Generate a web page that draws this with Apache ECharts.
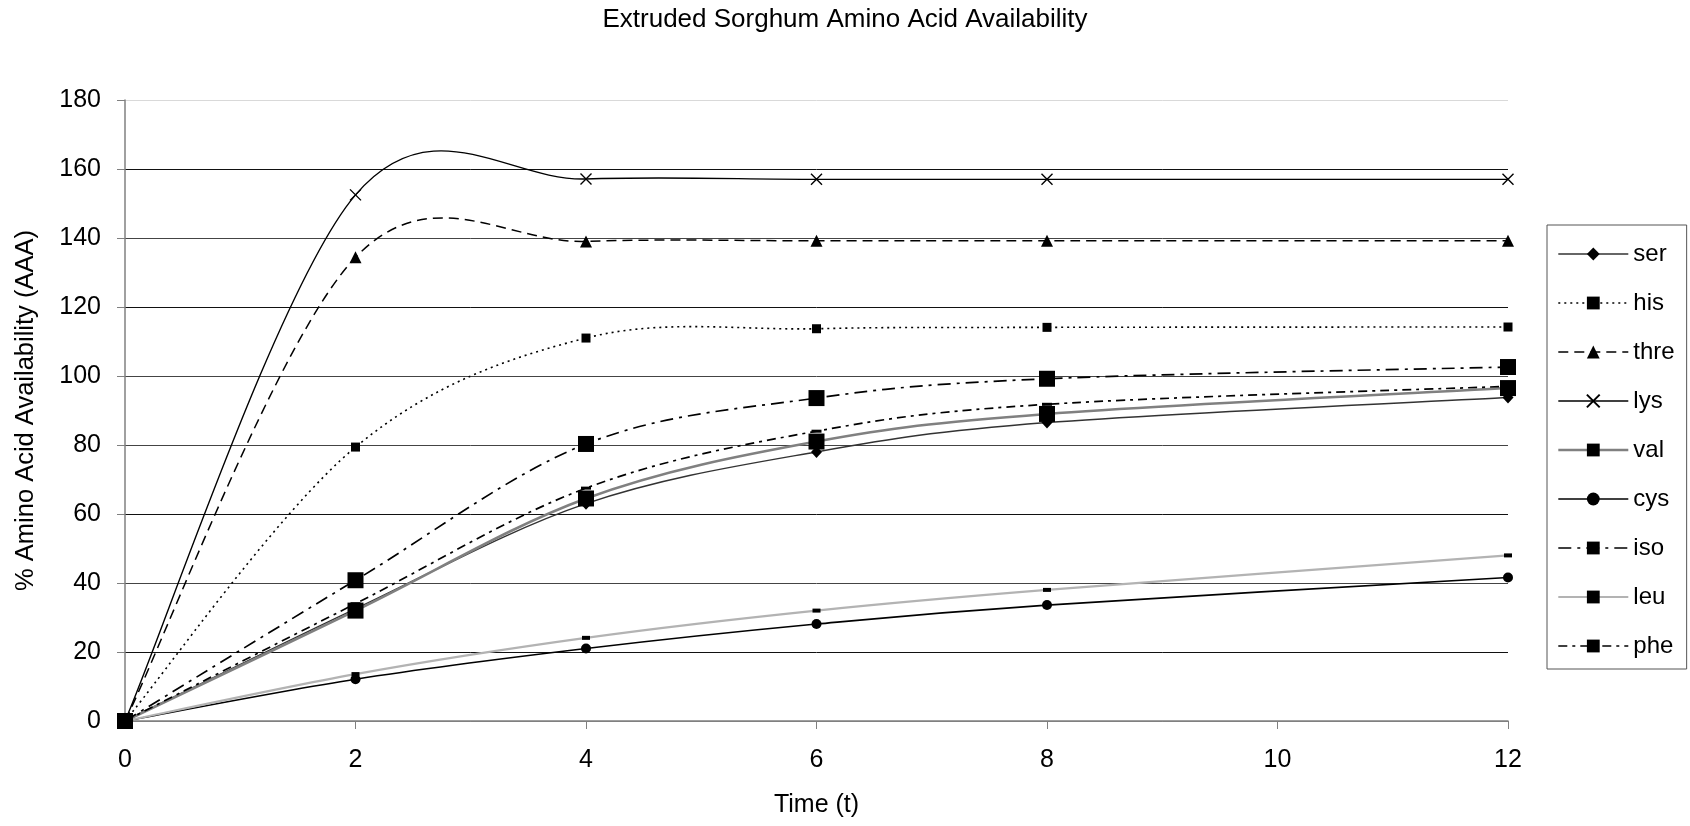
<!DOCTYPE html>
<html>
<head>
<meta charset="utf-8">
<title>Extruded Sorghum Amino Acid Availability</title>
<script src="https://cdn.jsdelivr.net/npm/echarts@6/dist/echarts.min.js"></script>
<style>
  html, body { margin: 0; padding: 0; background: #fff; }
  #chart { width: 1690px; height: 826px; }
</style>
</head>
<body>
<div id="chart"></div>
<script>
// Sampling times (x values) and availability (%) per amino acid
const timePoints = [0, 2, 4, 6, 8, 12];
const xTicks = [0, 2, 4, 6, 8, 10, 12];
const yTicks = [0, 20, 40, 60, 80, 100, 120, 140, 160, 180];

const ser  = [0, 32.5, 63,    78,    86.5,  93.8];
const his  = [0, 79.4, 111,   113.7, 114.1, 114.2];
const thre = [0, 134.4, 139,  139.2, 139.2, 139.2];
const lys  = [0, 152.5, 157.1, 157,  157,   157];
const val  = [0, 32,   64.5,  81,    89,    96.5];
const cys  = [0, 12.1, 21,    28.1,  33.6,  41.6];
const iso  = [0, 40.8, 80.3,  93.6,  99.2,  102.6];
const leu  = [0, 13.6, 24.1,  32,    38,    48];
const phe  = [0, 34,   67.5,  84,    91.8,  97];

const FONT = "'Liberation Sans', Arial, sans-serif";
const crossPath = 'path://M0,0L10,10M10,0L0,10';

function pairs(values) {
  return timePoints.map((t, i) => [t, values[i]]);
}

// Cardinal (1/6 tension) Bezier through the projected points
function smoothPathData(pts) {
  let d = 'M' + pts[0][0] + ',' + pts[0][1];
  for (let i = 0; i < pts.length - 1; i++) {
    const p0 = pts[Math.max(i - 1, 0)];
    const p1 = pts[i];
    const p2 = pts[i + 1];
    const p3 = pts[Math.min(i + 2, pts.length - 1)];
    const c1x = p1[0] + (p2[0] - p0[0]) / 6;
    const c1y = p1[1] + (p2[1] - p0[1]) / 6;
    const c2x = p2[0] - (p3[0] - p1[0]) / 6;
    const c2y = p2[1] - (p3[1] - p1[1]) / 6;
    d += 'C' + c1x + ',' + c1y + ',' + c2x + ',' + c2y + ',' + p2[0] + ',' + p2[1];
  }
  return d;
}

const defs = [
  { name: 'ser',  values: ser,  color: '#333',    width: 1.5, dash: null,            symbol: 'diamond', size: [11, 12] },
  { name: 'his',  values: his,  color: '#000',    width: 1.6, dash: [2, 4],          symbol: 'rect',    size: 9 },
  { name: 'thre', values: thre, color: '#000',    width: 1.5, dash: [10, 6],         symbol: 'triangle', size: 12 },
  { name: 'lys',  values: lys,  color: '#000',    width: 1.4, dash: null,            symbol: crossPath, size: 11 },
  { name: 'val',  values: val,  color: '#808080', width: 2.6, dash: null,            symbol: 'rect',    size: 16 },
  { name: 'cys',  values: cys,  color: '#000',    width: 1.6, dash: null,            symbol: 'circle',  size: 10 },
  { name: 'iso',  values: iso,  color: '#000',    width: 1.7, dash: [13, 6, 3, 6],   symbol: 'rect',    size: 16 },
  { name: 'leu',  values: leu,  color: '#b3b3b3', width: 2.2, dash: null,            symbol: 'rect',    size: [8, 4] },
  { name: 'phe',  values: phe,  color: '#000',    width: 1.7, dash: [9, 5, 3, 5],    symbol: 'rect',    size: [10, 3] }
];

// Markers (line series, its own line hidden) come first so the legend takes its icon from them
const markerSeries = defs.map(d => ({
  name: d.name,
  type: 'line',
  data: pairs(d.values),
  symbol: d.symbol,
  symbolSize: d.size,
  showAllSymbol: true,
  z: 4,
  lineStyle: { opacity: 0, color: d.color, width: d.width },
  itemStyle: d.symbol === crossPath
    ? { color: 'rgba(0,0,0,0)', borderColor: '#000', borderWidth: 1.4 }
    : { color: '#000' },
  emphasis: { disabled: true },
  silent: true
}));

// Smoothed connecting curves
const curveSeries = defs.map(d => ({
  name: d.name,
  type: 'custom',
  data: pairs(d.values),
  z: 3,
  silent: true,
  renderItem: function (params, api) {
    if (params.dataIndex !== 0) return null;
    const pts = timePoints.map((t, i) => api.coord([t, d.values[i]]));
    return {
      type: 'path',
      shape: { pathData: smoothPathData(pts) },
      style: {
        fill: null,
        stroke: d.color,
        lineWidth: d.width,
        lineDash: d.dash || null
      }
    };
  }
}));

const chart = echarts.init(document.getElementById('chart'), null, { renderer: 'canvas' });

chart.setOption({
  animation: false,
  backgroundColor: '#fff',
  textStyle: { fontFamily: FONT, color: '#000' },
  title: {
    text: 'Extruded Sorghum Amino Acid Availability',
    left: 'center',
    top: 7,
    padding: 0,
    textStyle: { fontFamily: FONT, fontSize: 26, fontWeight: 'normal', color: '#000' }
  },
  grid: { left: 125, right: 182, top: 100, bottom: 105, containLabel: false },
  xAxis: {
    type: 'value',
    min: xTicks[0],
    max: xTicks[xTicks.length - 1],
    interval: xTicks[1] - xTicks[0],
    name: 'Time (t)',
    nameLocation: 'middle',
    nameGap: 72,
    nameTextStyle: { fontFamily: FONT, fontSize: 25, color: '#000' },
    axisLine: { show: true, lineStyle: { color: '#808080', width: 1.5 } },
    axisTick: { show: true, length: 8, lineStyle: { color: '#808080' } },
    axisLabel: { fontFamily: FONT, fontSize: 25, color: '#000', margin: 27 },
    splitLine: { show: false }
  },
  yAxis: {
    type: 'value',
    min: yTicks[0],
    max: yTicks[yTicks.length - 1],
    interval: yTicks[1] - yTicks[0],
    name: '% Amino Acid Availability (AAA)',
    nameLocation: 'middle',
    nameGap: 86,
    nameTextStyle: { fontFamily: FONT, fontSize: 25.5, color: '#000' },
    axisLine: { show: true, lineStyle: { color: '#808080', width: 1.5 } },
    axisTick: { show: true, length: 8, lineStyle: { color: '#808080' } },
    axisLabel: { fontFamily: FONT, fontSize: 25, color: '#000', margin: 24 },
    splitLine: {
      show: true,
      lineStyle: {
        color: ['#808080', '#111', '#444', '#111', '#444', '#444', '#111', '#444', '#111', '#d9d9d9'],
        width: 1
      }
    }
  },
  legend: {
    orient: 'vertical',
    left: 1547,
    top: 225,
    padding: [17, 12, 11, 10],
    itemWidth: 70,
    itemHeight: 16,
    itemGap: 25,
    backgroundColor: '#fff',
    borderColor: '#555',
    borderWidth: 1,
    borderRadius: 0,
    selectedMode: false,
    textStyle: { fontFamily: FONT, fontSize: 24, color: '#000' },
    data: defs.map(d => ({
      name: d.name,
      lineStyle: {
        color: d.color,
        width: d.width,
        type: d.dash || 'solid',
        opacity: 1
      }
    }))
  },
  series: markerSeries.concat(curveSeries)
});
</script>
</body>
</html>
